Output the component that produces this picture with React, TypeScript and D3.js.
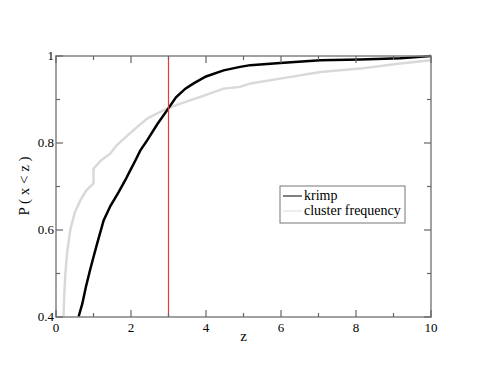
import React, { useEffect, useRef } from 'react';
import * as d3 from 'd3';

const krimpZ = [0.6, 0.7, 0.8, 0.9, 1.0, 1.1, 1.27, 1.45, 1.67, 1.85, 1.98, 2.1, 2.25, 2.43, 2.7, 2.96, 3.2, 3.45, 3.67, 4.0, 4.47, 4.91, 5.18, 5.98, 7.05, 8.11, 9.18, 10];
const krimpP = [0.4, 0.43, 0.47, 0.505, 0.538, 0.57, 0.622, 0.655, 0.687, 0.715, 0.737, 0.757, 0.783, 0.806, 0.843, 0.875, 0.905, 0.925, 0.937, 0.953, 0.967, 0.975, 0.979, 0.984, 0.99, 0.992, 0.995, 1.0];

const clusterZ = [0.2, 0.22, 0.25, 0.3, 0.38, 0.5, 0.65, 0.8, 1.0, 1.0, 1.2, 1.45, 1.6, 1.76, 2.1, 2.43, 2.7, 2.96, 3.3, 3.85, 4.47, 4.91, 5.18, 5.98, 7.05, 8.11, 9.18, 10];
const clusterP = [0.4, 0.45, 0.5, 0.55, 0.6, 0.64, 0.668, 0.69, 0.707, 0.741, 0.76, 0.776, 0.793, 0.806, 0.832, 0.856, 0.868, 0.879, 0.89, 0.906, 0.925, 0.929, 0.937, 0.948, 0.963, 0.971, 0.983, 0.99];

const xTicks = [0, 2, 4, 6, 8, 10];
const yTicks = [0.4, 0.6, 0.8, 1];
const xMinor = [1, 3, 5, 7, 9];
const yMinor = [0.5, 0.7, 0.9];
const cutoff = 3;

const App = () => {
  const ref = useRef<SVGSVGElement>(null);

  useEffect(() => {
    const svg = d3.select(ref.current);
    svg.selectAll('*').remove();

    const left = 56, right = 431, top = 56, bottom = 317;
    const x = d3.scaleLinear().domain([0, 10]).range([left, right]);
    const y = d3.scaleLinear().domain([0.4, 1]).range([bottom, top]);
    const font = "'Liberation Serif', 'Times New Roman', Tinos, 'DejaVu Serif', serif";

    const plot = svg.append('g');

    const line = d3.line<[number, number]>()
      .x(d => x(d[0]))
      .y(d => y(d[1]));

    plot.append('path')
      .datum(clusterZ.map((z, i) => [z, clusterP[i]] as [number, number]))
      .attr('d', line)
      .attr('fill', 'none')
      .attr('stroke', '#d9d9d9')
      .attr('stroke-width', 2.5);

    plot.append('path')
      .datum(krimpZ.map((z, i) => [z, krimpP[i]] as [number, number]))
      .attr('d', line)
      .attr('fill', 'none')
      .attr('stroke', '#000')
      .attr('stroke-width', 2.5);

    plot.append('line')
      .attr('x1', x(cutoff)).attr('x2', x(cutoff))
      .attr('y1', y(1)).attr('y2', y(0.4))
      .attr('stroke', '#e8383d')
      .attr('stroke-width', 1.2);

    // frame
    svg.append('rect')
      .attr('x', left).attr('y', top)
      .attr('width', right - left).attr('height', bottom - top)
      .attr('fill', 'none')
      .attr('stroke', '#8a8a8a')
      .attr('stroke-width', 1.6);

    const tickColor = '#666';
    const ticks = svg.append('g').attr('stroke', tickColor).attr('stroke-width', 1.2);
    xTicks.concat(xMinor).forEach(t => {
      const len = xTicks.includes(t) ? 7 : 4;
      ticks.append('line').attr('x1', x(t)).attr('x2', x(t)).attr('y1', bottom).attr('y2', bottom - len);
      ticks.append('line').attr('x1', x(t)).attr('x2', x(t)).attr('y1', top).attr('y2', top + len);
    });
    yTicks.concat(yMinor).forEach(t => {
      const len = yTicks.includes(t) ? 7 : 4;
      ticks.append('line').attr('x1', left).attr('x2', left + len).attr('y1', y(t)).attr('y2', y(t));
      ticks.append('line').attr('x1', right).attr('x2', right - len).attr('y1', y(t)).attr('y2', y(t));
    });

    svg.append('g').selectAll('text')
      .data(xTicks)
      .enter().append('text')
      .attr('x', d => x(d))
      .attr('y', bottom + 15)
      .attr('text-anchor', 'middle')
      .style('font-family', font)
      .style('font-size', '13px')
      .text(d => String(d));

    svg.append('g').selectAll('text')
      .data(yTicks)
      .enter().append('text')
      .attr('x', left - 2)
      .attr('y', d => y(d) + 4)
      .attr('text-anchor', 'end')
      .style('font-family', font)
      .style('font-size', '13px')
      .text(d => String(d));

    svg.append('text')
      .attr('x', (left + right) / 2)
      .attr('y', 341)
      .attr('text-anchor', 'middle')
      .style('font-family', font)
      .style('font-size', '15px')
      .text('z');

    svg.append('text')
      .attr('transform', 'translate(29,186) rotate(-90)')
      .attr('text-anchor', 'middle')
      .style('font-family', font)
      .style('font-size', '15px')
      .text('P ( x < z )');

    // legend
    const lg = svg.append('g');
    lg.append('rect')
      .attr('x', 280).attr('y', 186)
      .attr('width', 125).attr('height', 37)
      .attr('fill', '#fff')
      .attr('stroke', '#777')
      .attr('stroke-width', 1);
    const items = [
      { label: 'krimp', color: '#000' },
      { label: 'cluster frequency', color: '#dcdcdc' }
    ];
    items.forEach((it, i) => {
      const yy = 196 + i * 15;
      lg.append('line')
        .attr('x1', 283).attr('x2', 302)
        .attr('y1', yy).attr('y2', yy)
        .attr('stroke', it.color)
        .attr('stroke-width', 1);
      lg.append('text')
        .attr('x', 304).attr('y', yy + 4)
        .style('font-family', font)
        .style('font-size', '14px')
        .text(it.label);
    });
  }, []);

  return <svg ref={ref} width={485} height={374} style={{ position: 'absolute', left: 0, top: 0 }} />;
};

export default App;
